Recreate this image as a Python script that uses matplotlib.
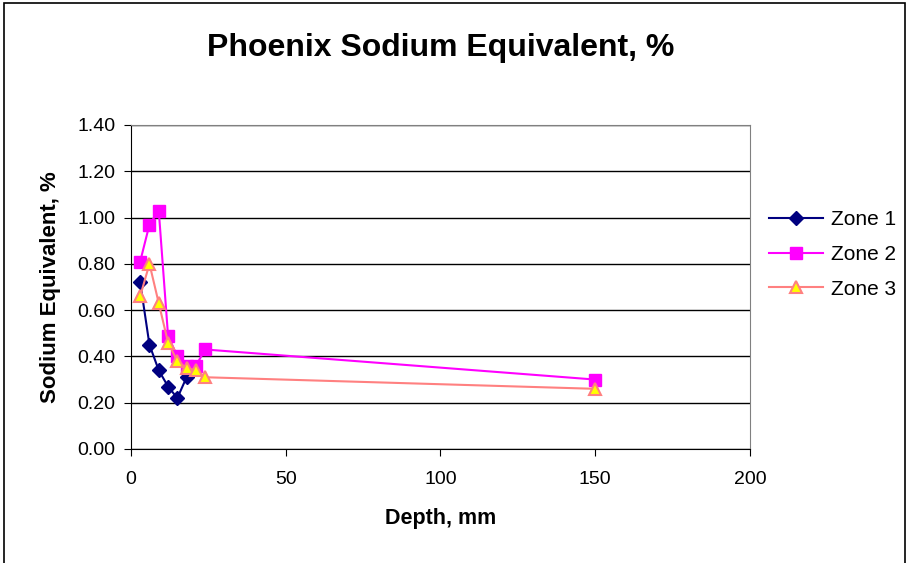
import matplotlib.pyplot as plt
from matplotlib.patches import Rectangle

plt.rcParams['font.family'] = ['Liberation Sans', 'DejaVu Sans']

# depth (mm) and sodium equivalent (%) per zone
depth1 = [3, 6, 9, 12, 15, 18]
zone1 = [0.72, 0.45, 0.34, 0.27, 0.22, 0.31]

depth2 = [3, 6, 9, 12, 15, 18, 21, 24, 150]
zone2 = [0.81, 0.97, 1.03, 0.49, 0.40, 0.36, 0.36, 0.43, 0.30]

depth3 = [3, 6, 9, 12, 15, 18, 21, 24, 150]
zone3 = [0.66, 0.80, 0.63, 0.46, 0.38, 0.35, 0.34, 0.31, 0.26]

fig = plt.figure(figsize=(9.09, 5.63), dpi=100)
ax = fig.add_axes([0.144, 0.2025, 0.681, 0.5755])

ax.plot(depth1, zone1, color='#000080', marker='D', markersize=7,
        markerfacecolor='#000080', markeredgecolor='#000080', lw=1.5, label='Zone 1')
ax.plot(depth2, zone2, color='#FF00FF', marker='s', markersize=8,
        markerfacecolor='#FF00FF', markeredgecolor='#FF00FF', lw=1.5, label='Zone 2')
ax.plot(depth3, zone3, color='#FF8080', marker='^', markersize=9,
        markerfacecolor='#FFFF00', markeredgecolor='#FF8080', markeredgewidth=1.5,
        lw=1.5, label='Zone 3')

ax.set_xlim(0, 200)
ax.set_ylim(0, 1.4)
ax.set_xticks([0, 50, 100, 150, 200])
ax.set_yticks([0, 0.2, 0.4, 0.6, 0.8, 1.0, 1.2, 1.4])
ax.set_yticklabels(['%.2f' % v for v in ax.get_yticks()])
ax.yaxis.grid(True, color='black', lw=1)
ax.set_axisbelow(True)

for side in ['top', 'right']:
    ax.spines[side].set_color('#808080')
ax.spines['left'].set_color('black')
ax.spines['bottom'].set_color('black')
ax.tick_params(axis='both', labelsize=14, direction='out', length=5, color='black', pad=6)
ax.tick_params(axis='x', pad=11)

ax.set_title('Phoenix Sodium Equivalent, %', fontsize=23, fontweight='bold', pad=50)
ax.set_xlabel('Depth, mm', fontsize=15.5, fontweight='bold', labelpad=14)
ax.set_ylabel('Sodium Equivalent, %', fontsize=16, fontweight='bold', labelpad=12)

ax.legend(loc='center left', bbox_to_anchor=(1.0, 0.6), frameon=False, fontsize=15,
          handlelength=2.6, handletextpad=0.4, labelspacing=0.75)

fig.patches.append(Rectangle((0.004, -0.01), 0.992, 1.005, transform=fig.transFigure,
                             fill=False, edgecolor='black', lw=1.2))

fig.savefig('out.png', dpi=100)
